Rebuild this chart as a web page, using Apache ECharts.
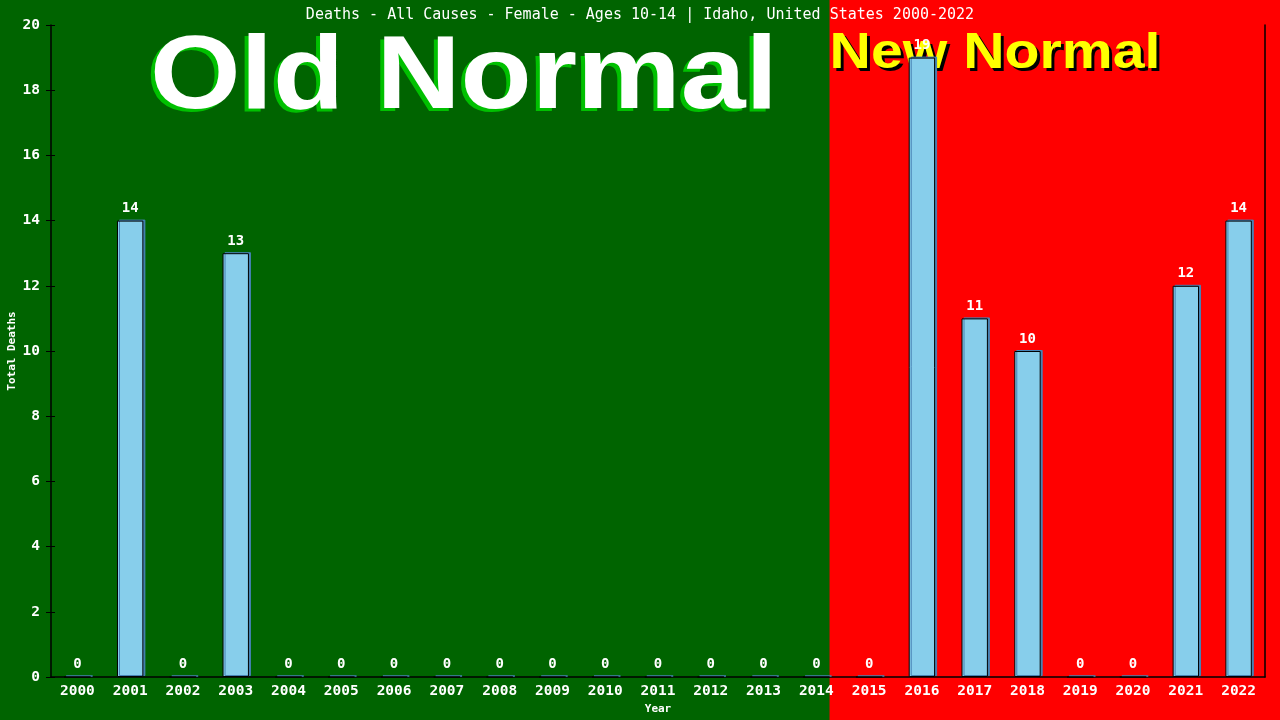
<!DOCTYPE html>
<html>
<head>
<meta charset="utf-8">
<script src="https://cdn.jsdelivr.net/npm/echarts@6/dist/echarts.min.js"></script>
<style>html,body{margin:0;padding:0;background:#006400}#c{width:1280px;height:720px}</style>
</head>
<body>
<div id="c"></div>
<script>
const titleText = "Deaths - All Causes - Female - Ages 10-14 | Idaho, United States 2000-2022";
const years = ["2000","2001","2002","2003","2004","2005","2006","2007","2008","2009","2010","2011","2012","2013","2014","2015","2016","2017","2018","2019","2020","2021","2022"];
const deaths = [0,14,0,13,0,0,0,0,0,0,0,0,0,0,0,0,19,11,10,0,0,12,14];
const yMin = 0, yMax = 20, yStep = 2;
const splitYear = "2014";

const mono = "'DejaVu Sans Mono', monospace";
const chart = echarts.init(document.getElementById('c'));
const axisBase = {type:'value', min:yMin, max:yMax, interval:yStep, splitLine:{show:false}};
chart.setOption({
  backgroundColor:'#006400',
  animation:false,
  title:{text:titleText, left:'center', top:3, textStyle:{color:'#fff', fontFamily:mono, fontSize:15, fontWeight:'normal'}},
  grid:{left:51, right:15, top:25, bottom:43, containLabel:false, outerBoundsMode:'none'},
  xAxis:{type:'category', data:years, name:'Year', nameLocation:'middle', nameGap:27,
    nameTextStyle:{color:'#fff', fontFamily:mono, fontSize:11, fontWeight:'bold'},
    axisLine:{lineStyle:{color:'#000', width:1.5}}, axisTick:{show:false},
    axisLabel:{color:'#fff', fontFamily:mono, fontSize:14.5, fontWeight:'bold', margin:7}},
  yAxis:[
    Object.assign({}, axisBase, {position:'left', name:'Total Deaths', nameLocation:'middle', nameGap:33,
      nameMoveOverlap:false,
      nameTextStyle:{color:'#fff', fontFamily:mono, fontSize:11, fontWeight:'bold'},
      axisLine:{show:true, lineStyle:{color:'#000', width:1.5}},
      axisTick:{show:true, length:5, lineStyle:{color:'#000'}},
      axisLabel:{color:'#fff', fontFamily:mono, fontSize:14.5, fontWeight:'bold', margin:11}}),
    Object.assign({}, axisBase, {position:'right', axisLine:{show:true, lineStyle:{color:'#000', width:1.5}},
      axisTick:{show:false}, axisLabel:{show:false}}),
    Object.assign({}, axisBase, {position:'left', axisLine:{show:false},
      axisTick:{show:true, inside:true, length:4, lineStyle:{color:'#000'}}, axisLabel:{show:false}})
  ],
  series:[{type:'bar', data:deaths, barWidth:'50%', z:5,
    itemStyle:{color:'#87CEEB', borderColor:'#000', borderWidth:1,
      shadowColor:'#4682B4', shadowOffsetX:2, shadowOffsetY:-1, shadowBlur:0},
    label:{show:true, position:'top', distance:5, color:'#fff', fontFamily:mono, fontSize:14, fontWeight:'bold'}}]
});

function drawBg(){
  const cx = chart.convertToPixel({xAxisIndex:0}, splitYear);
  const cx2 = chart.convertToPixel({xAxisIndex:0}, years[years.indexOf(splitYear)+1]);
  const boundary = cx + (cx2 - cx) * 0.25;
  const oldFont = "bold 104px 'Liberation Sans', Arial, sans-serif";
  const newFont = "bold 50px 'Liberation Sans', Arial, sans-serif";
  const oldX = 150, oldY = 27, newX = boundary, newY = 29;
  chart.setOption({graphic:[
    {type:'rect', z:-10, silent:true, shape:{x:boundary, y:0, width:1280-boundary, height:720}, style:{fill:'#FF0000'}},
    {type:'text', z:-6, silent:true, x:oldX-4, y:oldY+3, scaleX:1.12,
      style:{text:'Old Normal', fill:'#00C000', font:oldFont}},
    {type:'text', z:-5, silent:true, x:oldX, y:oldY, scaleX:1.12,
      style:{text:'Old Normal', fill:'#fff', font:oldFont}},
    {type:'text', z:-6, silent:true, x:newX+3, y:newY+3, scaleX:1.145,
      style:{text:'New Normal', fill:'#000', font:newFont}},
    {type:'text', z:-5, silent:true, x:newX, y:newY, scaleX:1.145,
      style:{text:'New Normal', fill:'#FFFF00', font:newFont}}
  ]});
}
drawBg();
</script>
</body>
</html>
